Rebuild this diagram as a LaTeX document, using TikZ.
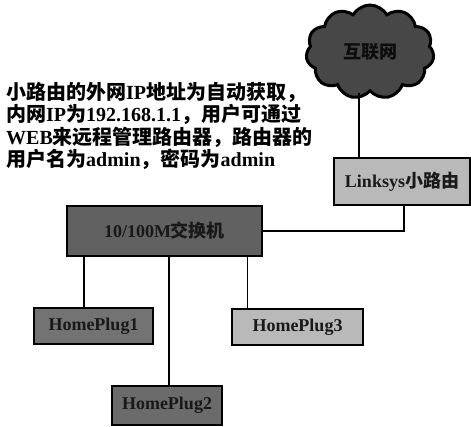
\documentclass[tikz,border=0pt]{standalone}
\usepackage{fontspec}
\setmainfont{Liberation Serif}
\newfontfamily\cjkfam{Noto Sans CJK SC}
\newcommand{\zhtxt}[1]{{\cjkfam #1}}
\usetikzlibrary{shapes.symbols}
\begin{document}
\begin{tikzpicture}[x=1pt,y=-1pt,
  link/.style={draw=black,line width=1.1pt},
  devbox/.style={rectangle,draw=black,line width=1.2pt,fill=gray!55,inner sep=0pt,
    font=\fontsize{18}{20}\selectfont\bfseries,text=black!90},
  darkbox/.style={devbox,fill=black!62},
  netcloud/.style={cloud,cloud puffs=11,cloud puff arc=120,aspect=1.4,draw=black,line width=3pt,
    fill=black!72,inner sep=0pt,font=\fontsize{18}{20}\selectfont\bfseries,text=black!95}]
\useasboundingbox (0,0) rectangle (471,426);

\node[netcloud,minimum width=128pt,minimum height=94pt] (cloud) at (370,52) {\zhtxt{互联网}};
\node[devbox,minimum width=136pt,minimum height=47pt] (linksys) at (402,181.5) {Linksys\zhtxt{小路由}};
\node[darkbox,minimum width=195pt,minimum height=50pt] (switch) at (164.5,231) {10/100M\zhtxt{交换机}};
\node[darkbox,fill=black!55,minimum width=119pt,minimum height=36pt] (hp1) at (93.5,326) {HomePlug1};
\node[devbox,minimum width=131pt,minimum height=36pt] (hp3) at (297.5,327) {HomePlug3};
\node[darkbox,fill=black!58,minimum width=110pt,minimum height=39pt] (hp2) at (167,405.5) {HomePlug2};

\node[anchor=north west,align=left,inner sep=0pt,
  font=\fontsize{20}{22.5}\selectfont\bfseries] (note) at (6,82)
  {\zhtxt{小路由的外网}IP\zhtxt{地址为自动获取，}\\
   \zhtxt{内网}IP\zhtxt{为}192.168.1.1\zhtxt{，用户可通过}\\
   WEB\zhtxt{来远程管理路由器，路由器的}\\
   \zhtxt{用户名为}admin\zhtxt{，密码为}admin};

\draw[link] ([xshift=-11pt]cloud.south) -- ([xshift=-11pt]cloud.south |- linksys.north);
\draw[link] ([xshift=2pt]linksys.south) |- (switch.east);
\draw[link] ([xshift=-9.5pt]hp1.north |- switch.south) -- ([xshift=-9.5pt]hp1.north);
\draw[link] ([xshift=2pt]hp2.north |- switch.south) -- ([xshift=2pt]hp2.north);
\draw[link] ([xshift=16pt]hp3.north west |- switch.south) -- ([xshift=16pt]hp3.north west);
\end{tikzpicture}
\end{document}
